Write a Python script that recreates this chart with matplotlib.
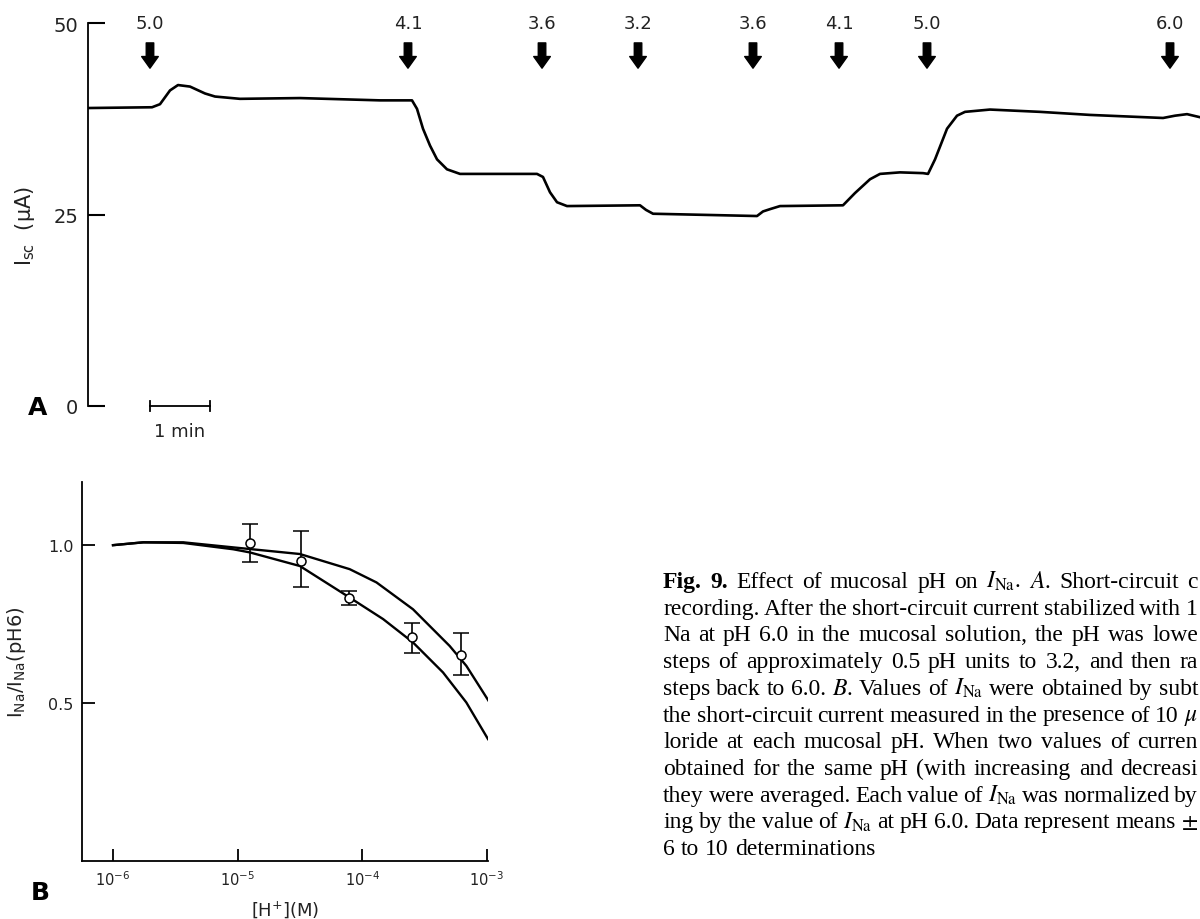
import numpy as np
import matplotlib
matplotlib.use("Agg")
import matplotlib.pyplot as plt

# ---- panel A: short-circuit current trace (minutes, uA) ----
trace_min = [0.0, 1.067, 1.2, 1.367, 1.5, 1.7, 1.95, 2.117, 2.533, 3.533, 4.867,
             5.4, 5.483, 5.583, 5.7, 5.817, 5.983, 6.2, 7.483, 7.583, 7.7, 7.817,
             7.983, 9.2, 9.3, 9.417, 11.15, 11.25, 11.367, 11.533, 12.583, 12.783,
             13.033, 13.2, 13.533, 13.917, 14.0, 14.117, 14.317, 14.483, 14.617,
             15.033, 15.867, 16.7, 17.917, 18.117, 18.317, 18.533]
trace_isc = [38.9, 39.0, 39.4, 41.2, 41.9, 41.7, 40.8, 40.4, 40.1, 40.2, 39.9,
             39.9, 38.8, 36.2, 34.0, 32.2, 30.9, 30.3, 30.3, 29.9, 27.9, 26.6,
             26.1, 26.2, 25.6, 25.1, 24.8, 25.4, 25.7, 26.1, 26.2, 27.8,
             29.6, 30.3, 30.5, 30.4, 30.3, 32.2, 36.2, 37.9, 38.4,
             38.7, 38.4, 38.0, 37.6, 37.9, 38.1, 37.7]

# pH changes (time of solution change, new pH)
arrow_min = [1.033, 5.333, 7.567, 9.167, 11.083, 12.517, 13.983, 18.033]
arrow_ph = ["5.0", "4.1", "3.6", "3.2", "3.6", "4.1", "5.0", "6.0"]

# ---- panel B: normalized I_Na vs [H+] ----
h_conc = [1.256e-5, 3.2e-5, 7.9e-5, 2.5e-4, 6.25e-4]
ina_norm = [1.006, 0.950, 0.832, 0.708, 0.653]
ina_err_hi = [0.060, 0.095, 0.023, 0.047, 0.069]
ina_err_lo = [0.059, 0.084, 0.022, 0.050, 0.064]

curve1_logh = [-6.0, -5.757, -5.436, -5.035, -4.5, -4.1, -3.885, -3.592, -3.298, -3.164, -2.977]
curve1_y = [1.0, 1.009, 1.009, 0.993, 0.972, 0.924, 0.882, 0.797, 0.681, 0.618, 0.502]
curve2_logh = [-6.0, -5.757, -5.436, -5.035, -4.901, -4.5, -4.1, -3.832, -3.592, -3.351, -3.164, -2.99]
curve2_y = [1.0, 1.009, 1.007, 0.987, 0.977, 0.934, 0.834, 0.766, 0.692, 0.597, 0.502, 0.386]

# caption as it shows in the figure (cut at the right edge)
INA = r"$I_{\mathrm{Na}}$"
caption = [
    "Fig. 9. Effect of mucosal pH on " + INA + ". $A$. Short-circuit c",
    "recording. After the short-circuit current stabilized with 1",
    "Na at pH 6.0 in the mucosal solution, the pH was lowe",
    "steps of approximately 0.5 pH units to 3.2, and then ra",
    "steps back to 6.0. $B$. Values of " + INA + " were obtained by subt",
    r"the short-circuit current measured in the presence of 10 $\mu$",
    "loride at each mucosal pH. When two values of curren",
    "obtained for the same pH (with increasing and decreasi",
    "they were averaged. Each value of " + INA + " was normalized by",
    "ing by the value of " + INA + r" at pH 6.0. Data represent means $\pm$",
    "6 to 10 determinations",
]

W, H = 1200, 920
fig = plt.figure(figsize=(12, 9.2), dpi=100)
txt_col = "#222222"

# ---------------- panel A ----------------
axA = fig.add_axes([88 / W, 1 - 407 / H, 1 - 88 / W, (407 - 24) / H])
axA.plot(trace_min, trace_isc, color="black", lw=1.9, solid_joinstyle="round")
axA.set_xlim(0, 18.533)
axA.set_ylim(0, 50)
for s in ["top", "right", "bottom"]:
    axA.spines[s].set_visible(False)
axA.spines["left"].set_linewidth(1.3)
axA.set_xticks([])
axA.set_yticks([0, 25, 50])
axA.set_yticklabels(["0", "25", "50"])
axA.tick_params(axis="y", direction="in", length=12, width=1.5, pad=7,
                labelsize=14, labelcolor=txt_col)

for t, ph in zip(arrow_min, arrow_ph):
    axA.annotate("", xy=(t, 44.1), xytext=(t, 47.4),
                 arrowprops=dict(arrowstyle="simple,head_length=0.7,head_width=1.0,tail_width=0.45",
                                 color="black", shrinkA=0, shrinkB=0, mutation_scale=12),
                 annotation_clip=False)
    axA.text(t, 50.0, ph, ha="center", va="center", fontsize=13, color=txt_col,
             clip_on=False)

# 1 min scale bar
axA.plot([1.033, 2.033], [0, 0], color="black", lw=1.3, clip_on=False)
axA.plot([1.033, 1.033], [-0.6, 0.6], color="black", lw=1.3, clip_on=False)
axA.plot([2.033, 2.033], [-0.6, 0.6], color="black", lw=1.3, clip_on=False)
axA.text(1.533, -3.3, "1 min", ha="center", va="center", fontsize=13, color=txt_col,
         clip_on=False)

fig.text(25 / W, 1 - 226 / H, r"I$_{\mathrm{sc}}$  (μA)", rotation=90, ha="center",
         va="center", fontsize=15, color=txt_col)
fig.text(38 / W, 1 - 408 / H, "A", ha="center", va="center", fontsize=18,
         fontweight="bold")

# ---------------- panel B ----------------
axB = fig.add_axes([82 / W, 1 - 862 / H, (488 - 82) / W, (862 - 483) / H])
axB.plot(10.0 ** np.array(curve1_logh), curve1_y, color="black", lw=1.7)
axB.plot(10.0 ** np.array(curve2_logh), curve2_y, color="black", lw=1.7)
axB.errorbar(h_conc, ina_norm, yerr=[ina_err_lo, ina_err_hi], fmt="o", ms=6.5,
             mfc="white", mec="black", mew=1.1, ecolor="black", elinewidth=1.2,
             capsize=6, capthick=1.2, zorder=3)
axB.set_xscale("log")
axB.set_xlim(10 ** -6.249, 10 ** -2.99)
axB.set_ylim(0, 1.2)
for s in ["top", "right"]:
    axB.spines[s].set_visible(False)
for s in ["left", "bottom"]:
    axB.spines[s].set_linewidth(1.3)
axB.set_xticks([1e-6, 1e-5, 1e-4, 1e-3])
axB.set_xticklabels([r"$10^{-6}$", r"$10^{-5}$", r"$10^{-4}$", r"$10^{-3}$"])
axB.xaxis.set_minor_locator(matplotlib.ticker.NullLocator())
axB.set_yticks([0.5, 1.0])
axB.set_yticklabels(["0.5", "1.0"])
axB.tick_params(axis="x", direction="in", length=9, width=1.3, pad=6,
                labelsize=10.5, labelcolor=txt_col)
axB.tick_params(axis="y", direction="in", length=9.5, width=1.3, pad=6,
                labelsize=11.5, labelcolor=txt_col)
axB.set_xlabel(r"[H$^{+}$](M)", fontsize=13, color=txt_col, labelpad=7)
fig.text(17 / W, 1 - 662 / H, r"I$_{\mathrm{Na}}$/I$_{\mathrm{Na}}$(pH6)", rotation=90,
         ha="center", va="center", fontsize=14, color=txt_col)
fig.text(40 / W, 1 - 893 / H, "B", ha="center", va="center", fontsize=18,
         fontweight="bold")

# ---------------- caption (justified, word by word) ----------------
renderer = fig.canvas.get_renderer()
left_px, right_px = 663, 1198
for i, line in enumerate(caption):
    base = 588 + i * 26.7
    y = 1 - base / H
    words = line.split(" ")
    # keep math words like "$I_{\mathrm{Na}}$." together (no spaces inside them)
    objs = []
    for j, w in enumerate(words):
        bold = i == 0 and j < 2
        objs.append(fig.text(left_px / W, y, w, ha="left", va="baseline", fontsize=17,
                             family="Liberation Serif", math_fontfamily="stix",
                             fontweight="bold" if bold else "normal", color="black"))
    widths = [o.get_window_extent(renderer).width for o in objs]
    if i < len(caption) - 1:
        gap = (right_px - left_px - sum(widths)) / (len(objs) - 1)
    else:
        gap = 6.0
    x = left_px
    for o, w in zip(objs, widths):
        o.set_x(x / W)
        x += w + gap

fig.savefig("out.png", dpi=100)
